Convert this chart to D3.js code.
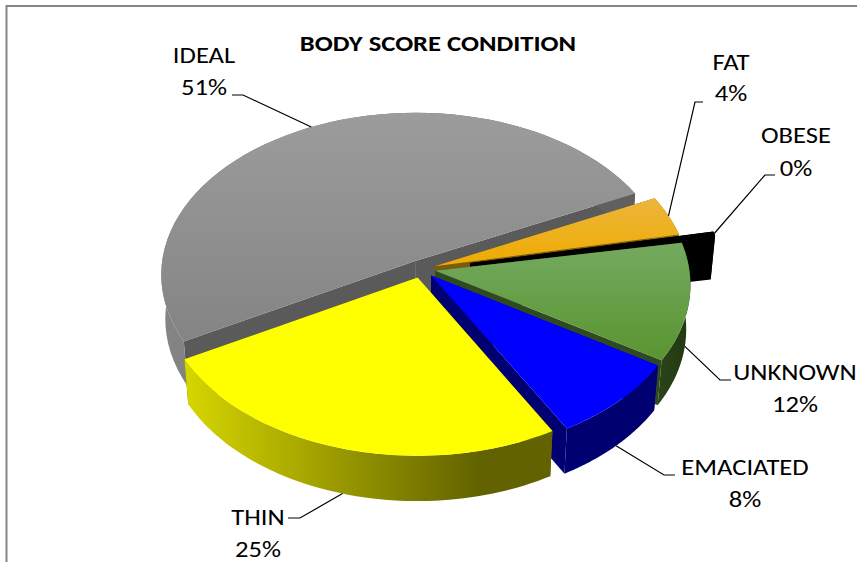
<!DOCTYPE html>
<html>
<head>
<meta charset="utf-8">
<script src="https://cdn.jsdelivr.net/npm/d3@7"></script>
<style>
  html, body { margin: 0; padding: 0; background: #fff; overflow: hidden; }
  text { font-family: Carlito, Lato, "Open Sans", sans-serif; fill: #000; }
</style>
</head>
<body>
<div id="chart"></div>
<script>
// values; obese is a sliver that rounds to 0%
const categories = ["IDEAL", "FAT", "OBESE", "UNKNOWN", "EMACIATED", "THIN"];
const values = [51, 4, 0.4, 11.7, 8, 25.3];
const title = "BODY SCORE CONDITION";

// colours per slice: top gradient, cut wall, rim gradient
const topColors = [["#9c9c9c", "#848484"], ["#ecb53c", "#efab00"], ["#000", "#000"], ["#74aa60", "#5a9430"], ["#0000ff", "#0000ff"], ["#ffff00", "#ffff00"]];
const cutColors = ["#5a5a5a", "#7a5c10", "#000", "#2f4a22", "#000070", "#6a6a00"];
const rimColors = [["#858585", "#606060"], ["#8a6a10", "#8a6a10"], ["#000", "#000"], ["#2a4518", "#233a12"], ["#000070", "#000070"], ["#d6d600", "#626200"]];
const explode = [0.055, 0.055, 0.195, 0.055, 0.055, 0.055];

// label placement: text centre, baselines, leader elbow, rim anchor
const labelLayout = [
  { x: 204, y1: 63, y2: 95, elbow: [[232, 95], [243, 95]], z: 0, nudge: 1 },
  { x: 731, y1: 70, y2: 101, elbow: [[703, 102], [695, 102]], z: 0, nudge: 0 },
  { x: 796, y1: 143, y2: 176, elbow: [[775, 175], [765, 175]], z: 0, nudge: 0 },
  { x: 795, y1: 380, y2: 412, elbow: [[731, 380], [720, 380]], z: 1, nudge: 0 },
  { x: 745, y1: 475, y2: 507, elbow: [[675, 475], [664, 475]], z: 1, nudge: 0 },
  { x: 258, y1: 525, y2: 557, elbow: [[288, 518], [300, 518]], z: 1, nudge: 0 }
];

const width = 857, height = 562;
const cx = 421.5, cy = 269, A = 254;
const tilt = 39.6 * Math.PI / 180, focal = 9.3, thick = 0.23;
const fontSize = 22, stretch = 1.21; // the source text is wider than it is tall
const startDeg = -118.7;

const svg = d3.select("#chart").append("svg")
  .attr("width", width)
  .attr("height", height);
const defs = svg.append("defs");

// frame runs off the right and bottom of the crop
svg.append("path")
  .attr("d", d3.line()([[6.5, height], [6.5, 6], [width, 6]]))
  .attr("fill", "none")
  .attr("stroke", "#868686")
  .attr("stroke-width", 2);

const project = (X, Y, Z) => {
  const v = Y * Math.sin(tilt) + Z * Math.cos(tilt);
  const w = Y * Math.cos(tilt) - Z * Math.sin(tilt);
  const s = focal / (focal + w);
  return [cx + A * X * s, cy - A * v * s];
};

const pie = d3.pie().sort(null)
  .startAngle(startDeg * Math.PI / 180)
  .endAngle((360 + startDeg) * Math.PI / 180);
const arcs = pie(values);
const total = d3.sum(values);
const line = d3.line();

const addGradient = (id, colors, horizontal) => {
  const g = defs.append("linearGradient").attr("id", id)
    .attr("x1", "0%").attr("y1", "0%")
    .attr("x2", horizontal ? "100%" : "0%").attr("y2", horizontal ? "0%" : "100%");
  g.append("stop").attr("offset", "0%").attr("stop-color", colors[0]);
  g.append("stop").attr("offset", horizontal ? "80%" : "100%").attr("stop-color", colors[1]);
};

const addText = (str, x, y, weight) => svg.append("text")
  .attr("transform", `translate(${x},${y}) scale(${stretch},1)`)
  .attr("text-anchor", "middle")
  .attr("font-size", fontSize)
  .attr("font-weight", weight)
  .text(str);

arcs.forEach((d, i) => {
  const mid = (d.startAngle + d.endAngle) / 2;
  const ox = explode[i] * Math.sin(mid), oy = explode[i] * Math.cos(mid);
  const rim = (a, z) => project(ox + Math.sin(a), oy + Math.cos(a), z);
  const apex = z => project(ox, oy, z);
  const steps = d3.range(0, 61).map(k => d.startAngle + (d.endAngle - d.startAngle) * k / 60);

  addGradient("top" + i, topColors[i], false);
  addGradient("rim" + i, rimColors[i], true);

  const g = svg.append("g").attr("class", "slice");

  // cut walls
  [d.startAngle, d.endAngle].forEach(a => {
    g.append("path")
      .attr("d", line([apex(0), rim(a, 0), rim(a, -thick), apex(-thick)]) + "Z")
      .attr("fill", cutColors[i]);
  });

  // outer wall, the back part ends up under the top
  const wall = steps.map(a => rim(a, 0)).concat(steps.slice().reverse().map(a => rim(a, -thick)));
  g.append("path")
    .attr("d", line(wall) + "Z")
    .attr("fill", `url(#rim${i})`);

  // top
  g.append("path")
    .attr("d", line([apex(0)].concat(steps.map(a => rim(a, 0)))) + "Z")
    .attr("fill", `url(#top${i})`);
});

// leaders go on top of the slices
arcs.forEach((d, i) => {
  const l = labelLayout[i];
  const mid = (d.startAngle + d.endAngle) / 2;
  const a = mid + l.nudge * Math.PI / 180;
  const start = project(explode[i] * Math.sin(mid) + Math.sin(a), explode[i] * Math.cos(mid) + Math.cos(a), -thick * l.z);
  svg.append("path")
    .attr("d", line(l.elbow.concat([start])))
    .attr("fill", "none")
    .attr("stroke", "#000")
    .attr("stroke-width", 1.2);

  addText(categories[i], l.x, l.y1, "normal");
  addText(Math.round(values[i] / total * 100) + "%", l.x, l.y2, "normal");
});

addText(title, 438, 51, "bold");
</script>
</body>
</html>
